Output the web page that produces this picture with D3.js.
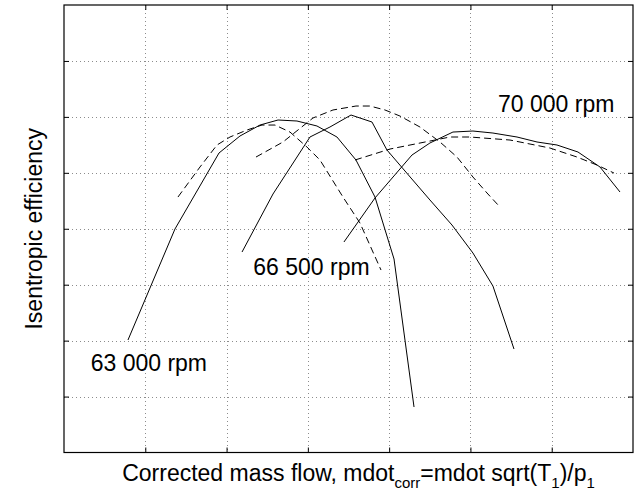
<!DOCTYPE html>
<html>
<head>
<meta charset="utf-8">
<script src="https://cdn.jsdelivr.net/npm/d3@7"></script>
<style>
  body { margin: 0; background: #fff; }
  text { font-family: "Liberation Sans", Arial, Helvetica, sans-serif; fill: #000; }
</style>
</head>
<body>
<div id="chart"></div>
<script>
// Axis extent in grid units (the original has no tick labels)
const xTicks = [1, 2, 3, 4, 5, 6];
const yTicks = [1, 2, 3, 4, 5, 6, 7];

// 63 000 rpm, measured (solid) and model (dashed)
const meas63 = [[0.787,2.011],[1.365,3.995],[1.907,5.354],[2.165,5.658],[2.411,5.854],[2.633,5.944],[2.866,5.926],
  [3.112,5.837],[3.358,5.640],[3.592,5.229],[3.826,4.567],[4.060,3.459],[4.306,0.813]];
const model63 = [[1.402,4.567],[1.673,5.104],[1.882,5.497],[2.042,5.640],[2.251,5.765],[2.436,5.854],[2.596,5.854],
  [2.780,5.729],[2.989,5.461],[3.149,5.229],[3.432,4.567],[3.641,4.103],[3.900,3.262]];

// 66 500 rpm
const meas665 = [[2.190,3.584],[2.571,4.621],[3.026,5.640],[3.272,5.819],[3.531,6.033],[3.789,5.908],[3.973,5.408],
  [4.269,4.907],[4.502,4.514],[4.773,4.067],[5.031,3.566],[5.277,2.976],[5.536,1.850]];
const model665 = [[2.362,5.282],[2.694,5.551],[3.063,5.980],[3.309,6.123],[3.592,6.194],[3.764,6.194],[3.949,6.123],
  [4.133,6.015],[4.379,5.819],[4.625,5.551],[4.835,5.282],[5.031,4.925],[5.204,4.639],[5.363,4.389]];

// 70 000 rpm
const meas70 = [[3.444,3.763],[3.826,4.550],[4.281,5.318],[4.502,5.533],[4.785,5.729],[5.031,5.747],[5.277,5.711],
  [5.573,5.640],[5.819,5.551],[6.065,5.497],[6.323,5.372],[6.594,5.104],[6.840,4.657]];
const model70 = [[3.580,5.229],[4.010,5.425],[4.502,5.568],[4.748,5.640],[4.994,5.640],[5.487,5.586],[5.979,5.443],
  [6.311,5.282],[6.557,5.139],[6.766,4.996]];

const speedLabels = ["63 000 rpm", "66 500 rpm", "70 000 rpm"];
const labelPos = [[0.328, 1.462], [2.329, 3.173], [5.339, 6.092]];

const width = 640, height = 497;
const margin = { top: 5, right: 7, bottom: 44.5, left: 64 };
const fontSize = 23;

const svg = d3.select("#chart").append("svg")
  .attr("width", width)
  .attr("height", height);

const x = d3.scaleLinear().domain([0, 7]).range([margin.left, width - margin.right]);
const y = d3.scaleLinear().domain([0, 8]).range([height - margin.bottom, margin.top]);

// dotted grid
const grid = svg.append("g")
  .attr("stroke", "#8c8c8c")
  .attr("stroke-width", 1)
  .attr("stroke-dasharray", "1,3");
grid.selectAll(".gx").data(xTicks).join("line")
  .attr("x1", d => Math.round(x(d)) + 0.5).attr("x2", d => Math.round(x(d)) + 0.5)
  .attr("y1", y(8)).attr("y2", y(0));
grid.selectAll(".gy").data(yTicks).join("line")
  .attr("y1", d => Math.round(y(d)) + 0.5).attr("y2", d => Math.round(y(d)) + 0.5)
  .attr("x1", x(0)).attr("x2", x(7));

// inward ticks on all four sides (matlab style)
const tickLen = 5;
const axes = [
  d3.axisBottom(x).tickValues(xTicks).tickFormat("").tickSizeInner(-tickLen).tickSizeOuter(0),
  d3.axisTop(x).tickValues(xTicks).tickFormat("").tickSizeInner(-tickLen).tickSizeOuter(0),
  d3.axisLeft(y).tickValues(yTicks).tickFormat("").tickSizeInner(-tickLen).tickSizeOuter(0),
  d3.axisRight(y).tickValues(yTicks).tickFormat("").tickSizeInner(-tickLen).tickSizeOuter(0)
];
const axisPos = [
  `translate(0,${y(0)})`, `translate(0,${y(8)})`,
  `translate(${x(0)},0)`, `translate(${x(7)},0)`
];
axes.forEach((a, i) => {
  const g = svg.append("g").attr("transform", axisPos[i]).call(a);
  g.select(".domain").remove();
  g.selectAll("line").attr("stroke", "#000");
});

// frame
svg.append("rect")
  .attr("x", x(0)).attr("y", y(8))
  .attr("width", x(7) - x(0)).attr("height", y(0) - y(8))
  .attr("fill", "none").attr("stroke", "#000").attr("stroke-width", 1.2);

// curves
const line = d3.line().x(d => x(d[0])).y(d => y(d[1]));
const curves = [
  { data: meas63, dash: null }, { data: model63, dash: "7,4" },
  { data: meas665, dash: null }, { data: model665, dash: "7,4" },
  { data: meas70, dash: null }, { data: model70, dash: "7,4" }
];
svg.append("g").selectAll("path").data(curves).join("path")
  .attr("d", d => line(d.data))
  .attr("fill", "none")
  .attr("stroke", "#000")
  .attr("stroke-width", 1)
  .attr("stroke-dasharray", d => d.dash);

// speed labels
svg.append("g").selectAll("text").data(speedLabels).join("text")
  .attr("x", (d, i) => x(labelPos[i][0]))
  .attr("y", (d, i) => y(labelPos[i][1]))
  .attr("font-size", fontSize)
  .text(d => d);

// y axis label
svg.append("text")
  .attr("transform", `translate(42,${(y(0) + y(8)) / 2}) rotate(-90)`)
  .attr("text-anchor", "middle")
  .attr("font-size", fontSize)
  .text("Isentropic efficiency");

// x axis label with subscripts
const xl = svg.append("text")
  .attr("x", (x(0) + x(7)) / 2 + 10)
  .attr("y", 481)
  .attr("text-anchor", "middle")
  .attr("font-size", fontSize);
xl.append("tspan").text("Corrected mass flow, mdot");
xl.append("tspan").attr("font-size", 15).attr("dy", 7).text("corr");
xl.append("tspan").attr("dy", -7).text("=mdot sqrt(T");
xl.append("tspan").attr("font-size", 15).attr("dy", 7).text("1");
xl.append("tspan").attr("dy", -7).text(")/p");
xl.append("tspan").attr("font-size", 15).attr("dy", 7).text("1");
</script>
</body>
</html>
